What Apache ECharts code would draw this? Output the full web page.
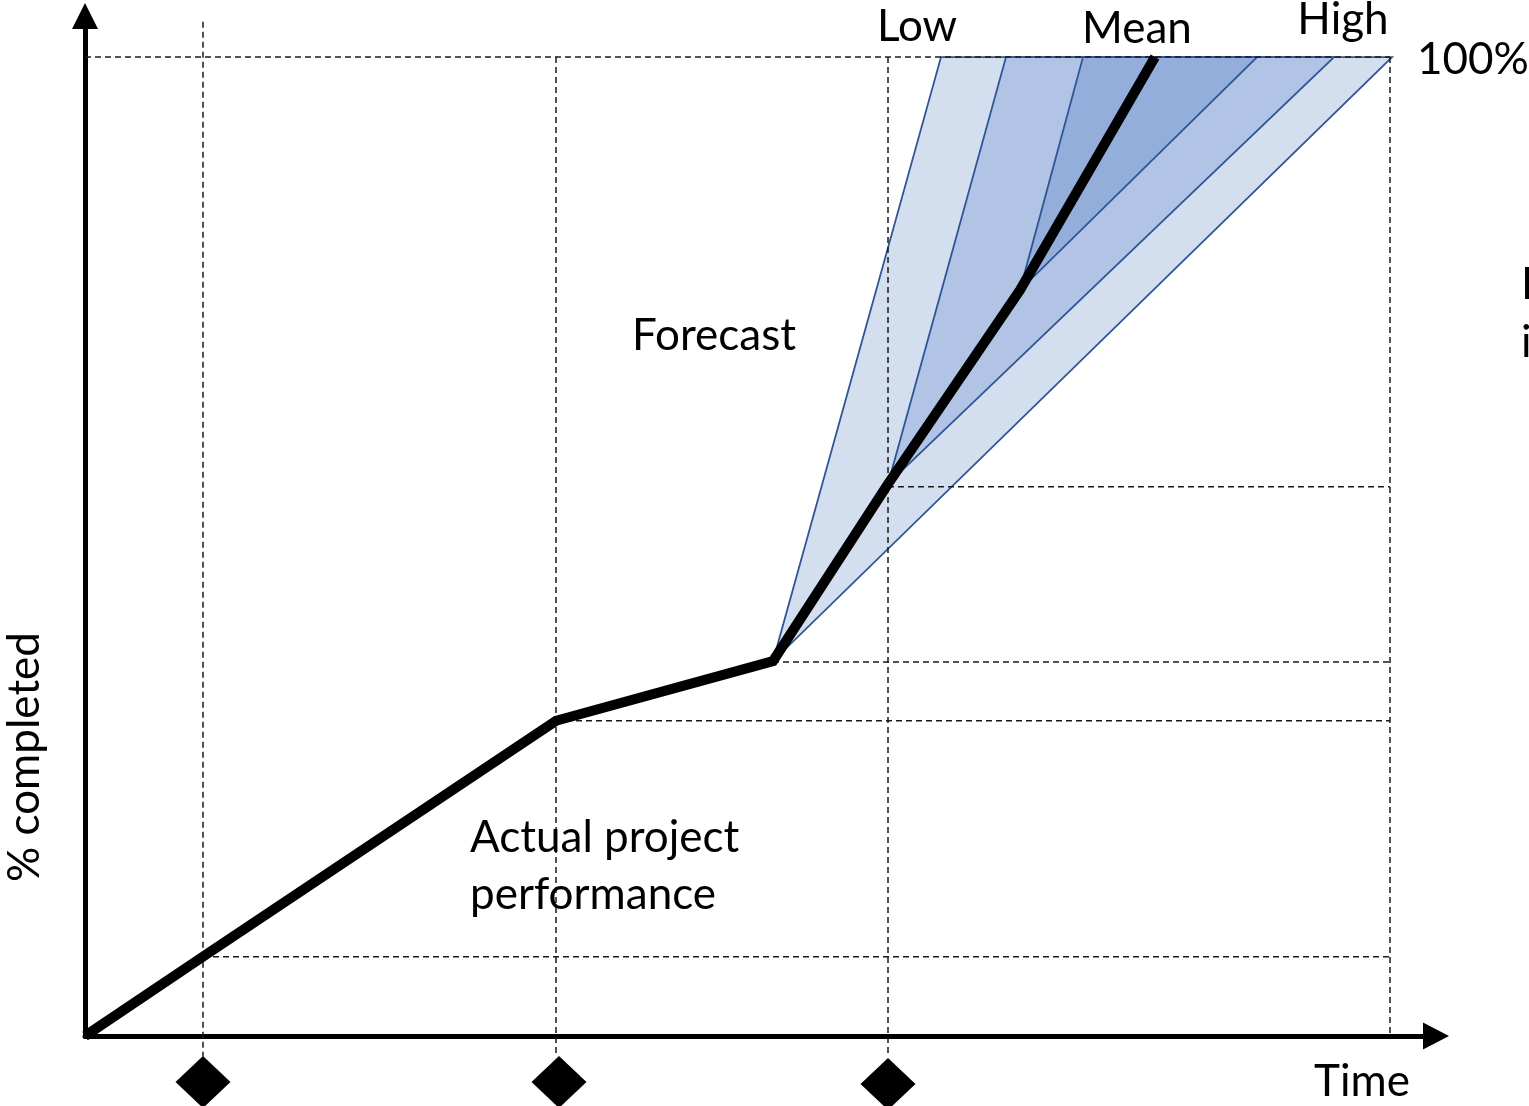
<!DOCTYPE html>
<html>
<head>
<meta charset="utf-8" />
<title></title>
<script src="https://cdn.jsdelivr.net/npm/echarts@6/dist/echarts.min.js"></script>
</head>
<body>
<div id="main" style="width:1529px;height:1106px;"></div>
<style>
body{margin:0;padding:0;background:#fff;}
</style>
<script type="text/javascript">
// axis extents (time units / percent)
var xMax = 135.1
var yMax = 104.2

// actual progress + mean forecast
var meanLine = [[0, 0], [11.8, 8.1], [47.1, 32.2], [68.8, 38.3], [80.3, 56.4], [93.5, 76.2], [107.0, 100]]

// forecast bands (triangles: apex, low end, high end)
var bandOuter = [68.8, 38.3, 85.6, 100, 130.7, 100]
var bandMid = [80.3, 56.4, 92.1, 100, 124.9, 100]
var bandInner = [93.5, 76.2, 99.8, 100, 117.2, 100]
var bandColors = ['#d3deef', '#b1c4e5', '#94aedb']

// dashed guide lines [x1, y1, x2, y2]
var guides = [
  [11.8, 103.6, 11.8, -2.1],
  [47.1, 100, 47.1, -2.1],
  [80.3, 100, 80.3, -2.1],
  [130.5, 100, 130.5, 0],
  [0, 100, 130.5, 100],
  [80.3, 56.1, 130.5, 56.1],
  [68.8, 38.2, 130.5, 38.2],
  [47.1, 32.2, 130.5, 32.2],
  [11.8, 8.1, 130.5, 8.1]
]

// milestone diamonds under the time axis
var milestones = [[11.8, -4.7], [47.4, -4.7], [80.3, -4.9]]

var font = '44px Lato'
function label(text, x, y, align, extra) {
  var el = {type: 'text', x: x, y: y, z: 10,
    style: {text: text, font: font, fill: '#000', align: align || 'center', verticalAlign: 'middle'}}
  if (extra) for (var k in extra) el[k] = extra[k]
  return el
}

var chart = echarts.init(document.getElementById('main'))
chart.setOption({
  animation: false,
  grid: {left: 85, right: 93, top: 16, bottom: 70, containLabel: false},
  xAxis: {
    type: 'value', min: 0, max: xMax,
    axisLine: {show: true, onZero: false, symbol: ['none', 'triangle'], symbolSize: [27, 26],
      lineStyle: {color: '#000', width: 5}},
    axisTick: {show: false}, axisLabel: {show: false}, splitLine: {show: false}
  },
  yAxis: {
    type: 'value', min: 0, max: yMax,
    axisLine: {show: true, onZero: false, symbol: ['none', 'triangle'], symbolSize: [26, 26],
      lineStyle: {color: '#000', width: 5}},
    axisTick: {show: false}, axisLabel: {show: false}, splitLine: {show: false}
  },
  series: [
    {
      type: 'custom', z: 1, clip: false,
      data: [bandOuter, bandMid, bandInner],
      encode: {x: [0, 2, 4], y: [1, 3, 5]},
      renderItem: function (params, api) {
        var pts = []
        for (var i = 0; i < 3; i++) pts.push(api.coord([api.value(2 * i), api.value(2 * i + 1)]))
        return {type: 'polygon', shape: {points: pts},
          style: {fill: bandColors[params.dataIndex], stroke: '#2f5597', lineWidth: 1.8}}
      }
    },
    {
      type: 'custom', z: 2, clip: false,
      data: guides,
      encode: {x: [0, 2], y: [1, 3]},
      renderItem: function (params, api) {
        var a = api.coord([api.value(0), api.value(1)])
        var b = api.coord([api.value(2), api.value(3)])
        return {type: 'line', shape: {x1: a[0], y1: a[1], x2: b[0], y2: b[1]},
          style: {stroke: '#1a1a1a', lineWidth: 1.5, lineDash: [6, 4]}}
      }
    },
    {
      type: 'line', z: 3, clip: false,
      data: meanLine, symbol: 'none',
      lineStyle: {color: '#000', width: 10, join: 'miter'}
    },
    {
      type: 'scatter', z: 3, clip: false,
      data: milestones, symbol: 'diamond', symbolSize: [55, 52],
      itemStyle: {color: '#000', opacity: 1}
    }
  ],
  graphic: [
    label('Low', 917, 27),
    label('Mean', 1137, 29),
    label('High', 1343, 20),
    label('100%', 1417, 60, 'left'),
    label('Forecast', 632, 336, 'left'),
    label('Actual project', 470, 838, 'left'),
    label('performance', 470, 895, 'left'),
    label('Time', 1362, 1082),
    label('Prediction', 1521, 285, 'left'),
    label('interval', 1521, 343, 'left'),
    label('% completed', 25, 757, 'center', {rotation: Math.PI / 2})
  ]
})
</script>
</body>
</html>
